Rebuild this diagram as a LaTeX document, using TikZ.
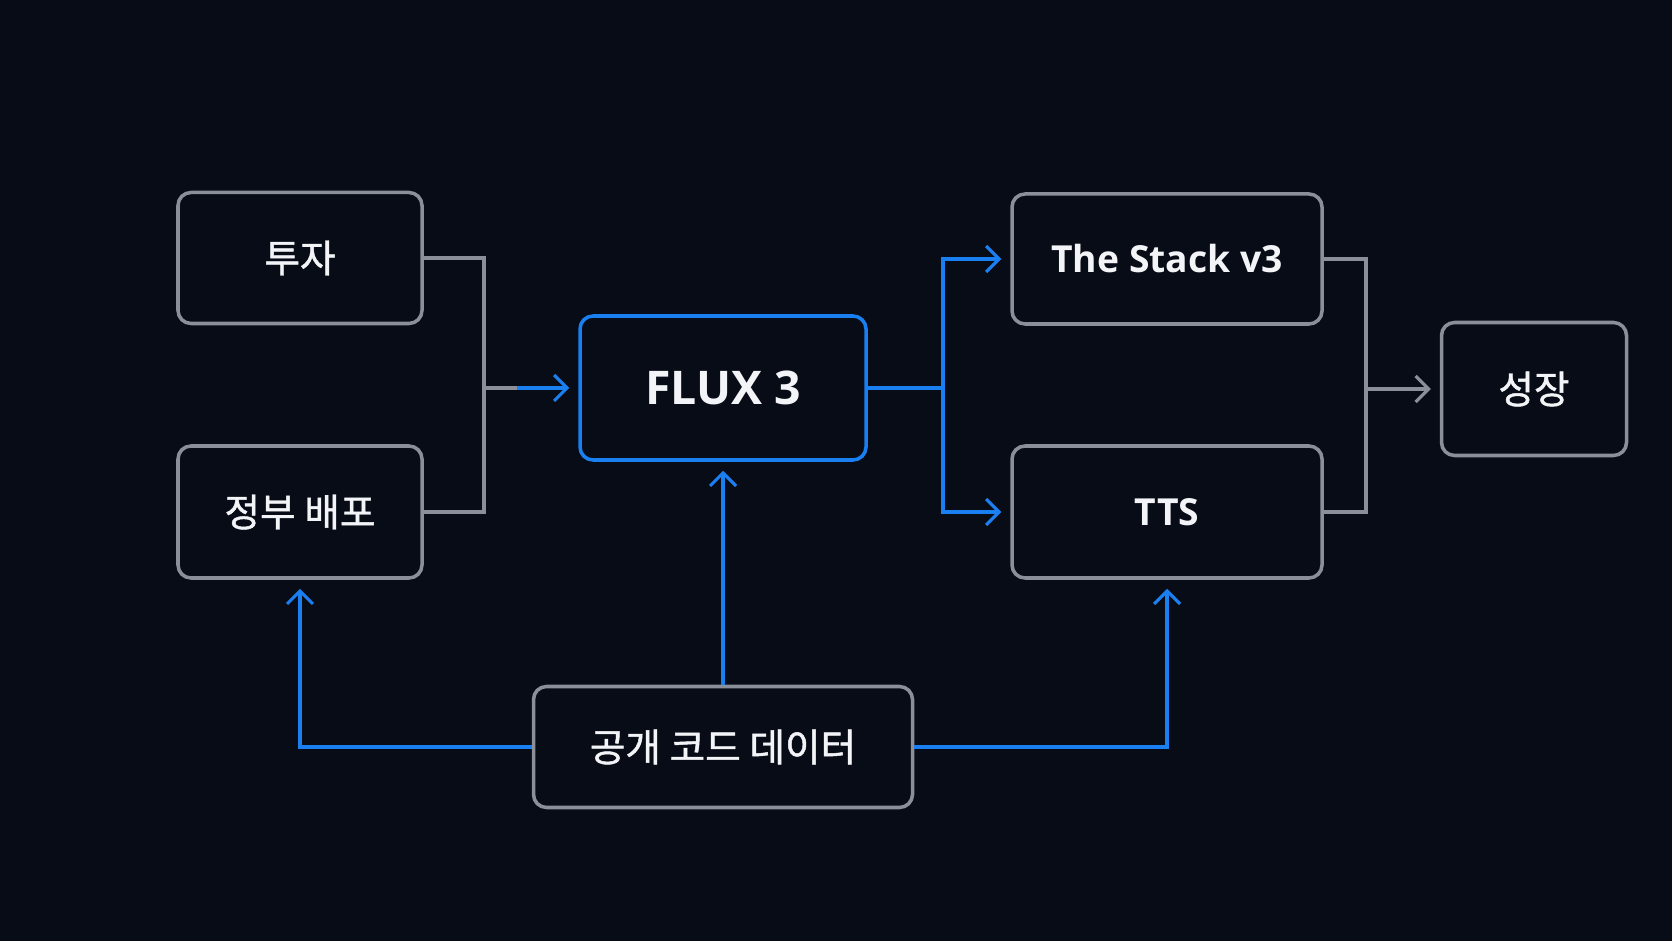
\documentclass[tikz,border=0pt]{standalone}
\usepackage{fontspec}
\setmainfont{Open Sans}
\newfontfamily\krfont{Noto Sans CJK KR}[BoldFont={Noto Sans CJK KR}, BoldFeatures={FakeBold=1.2}]
\usetikzlibrary{arrows.meta}
\definecolor{bgnavy}{HTML}{080C16}
\definecolor{edgegray}{HTML}{8A8F9A}
\definecolor{fluxblue}{HTML}{1A7FF0}
\definecolor{labelwhite}{HTML}{F2F4F7}

\begin{document}
\begin{tikzpicture}[
	box/.style={draw=edgegray, line width=1pt, fill=bgnavy, rounded corners=0.13cm, text=labelwhite, inner sep=2pt, font=\bfseries\fontsize{10.6}{13}\selectfont},
	krbox/.style={box, font=\krfont\bfseries\fontsize{11}{13}\selectfont},
	fluxbox/.style={box, draw=fluxblue, font=\bfseries\fontsize{13.2}{16}\selectfont},
	link/.style={draw=edgegray, line width=0.9pt},
	flow/.style={draw=fluxblue, line width=0.9pt},
	tip/.style={-{Straight Barb[length=0.13cm,width=0.26cm,line width=0.9pt]}, shorten >=0.09cm}
	]
		
		% Background
		\fill[bgnavy] (0,0) rectangle (16.72,9.41);
		
		% Draw the sources on the left
		\node (invest) [krbox, minimum width=2.44cm, minimum height=1.31cm] at (3.00,6.83) {투자};
		\node (deploy) [krbox, minimum width=2.44cm, minimum height=1.32cm] at (3.00,4.29) {정부 배포};
		
		% Draw the model
		\node (flux) [fluxbox, minimum width=2.86cm, minimum height=1.44cm] at (7.23,5.53) {FLUX 3};
		
		% Draw the outputs on the right
		\node (stack) [box, minimum width=3.10cm, minimum height=1.30cm] at (11.67,6.82) {The Stack v3};
		\node (tts) [box, minimum width=3.10cm, minimum height=1.32cm] at (11.67,4.29) {TTS};
		\node (growth) [krbox, minimum width=1.85cm, minimum height=1.33cm] at (15.34,5.52) {성장};
		
		% Draw the open data
		\node (opendata) [krbox, minimum width=3.79cm, minimum height=1.21cm] at (7.23,1.94) {공개 코드 데이터};
		
		% Merge the sources into the model
		\coordinate (mergeL) at (4.84,5.53);
		\coordinate (mergeLend) at (5.17,5.53);
		\draw[link] (invest.east) -| (mergeL);
		\draw[link] (deploy.east) -| (mergeL);
		\draw[link] (mergeL) -- (mergeLend);
		\draw[flow, tip] (mergeLend) -- (flux.west);
		
		% Split the model into the outputs
		\coordinate (splitR) at (9.43,5.53);
		\draw[flow] (flux.east) -- (splitR);
		\draw[flow, tip] (splitR) |- (stack.west);
		\draw[flow, tip] (splitR) |- (tts.west);
		
		% Merge the outputs into growth
		\coordinate (mergeR) at (13.66,5.52);
		\draw[link] (stack.east) -| (mergeR);
		\draw[link] (tts.east) -| (mergeR);
		\draw[link, tip] (mergeR) -- (growth.west);
		
		% Feed the open data upwards
		\draw[flow, tip] (opendata.west) -| (deploy.south);
		\draw[flow, tip] (opendata.north) -- (flux.south);
		\draw[flow, tip] (opendata.east) -| (tts.south);
		\end{tikzpicture}
\end{document}
